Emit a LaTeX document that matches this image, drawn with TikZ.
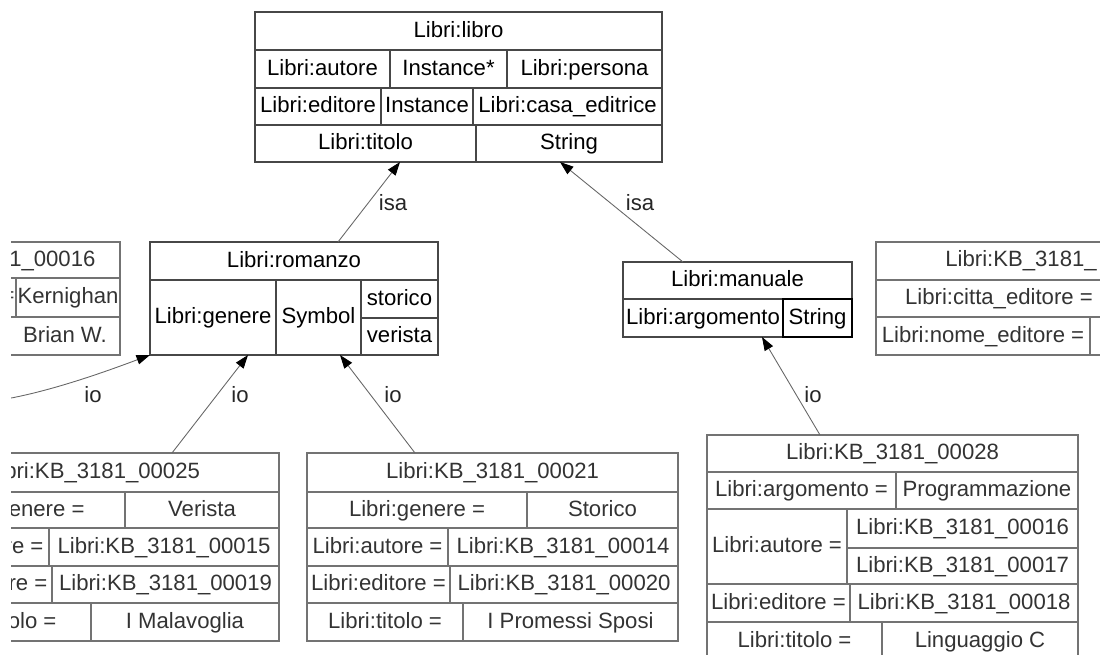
\documentclass[tikz,border=0pt]{standalone}
\usepackage{fontspec}
\setmainfont{Liberation Sans}
\usetikzlibrary{arrows.meta,fit,calc}

% a table cell: style, name, x1, y1, x2, y2, text
\newcommand{\tcell}[7]{%
  \node[#1, minimum width={(#5-#3)*0.02cm}, minimum height={(#6-#4)*0.02cm}]
    (#2) at ({(#3+#5)/2},{(#4+#6)/2}) {#7};}

\begin{document}
\begin{tikzpicture}[x=0.02cm,y=-0.02cm,
  txtfont/.style={font=\fontsize{12.6}{14}\selectfont},
  cellU/.style={draw=black!72, line width=0.6pt, inner sep=0pt, outer sep=0pt,
    text=black, txtfont, text height=8.6pt, text depth=1.6pt},
  cellL/.style={draw=black!55, line width=0.6pt, inner sep=0pt, outer sep=0pt,
    text=black!80, txtfont, text height=8.6pt, text depth=1.6pt},
  cellM/.style={cellU, draw=black},
  frame/.style={inner sep=0pt, outer sep=0pt},
  lab/.style={inner sep=0pt, text=black!85, txtfont},
  link/.style={draw=black!60, line width=0.5pt,
    -{Triangle[length=0.27cm,width=0.19cm,color=black]}}
]
\useasboundingbox (0,0) rectangle (1100,655);
\clip (11,0) rectangle (1100,655);

% ---- class Libri:libro ----
\node[frame, fit={(255,12) (662,162)}] (libro) {};
\tcell{cellU}{lb-h}{255}{12}{662}{50}{Libri:libro}
\tcell{cellU}{lb-a1}{255}{50}{390}{88}{Libri:autore}
\tcell{cellU}{lb-a2}{390}{50}{507}{88}{Instance*}
\tcell{cellU}{lb-a3}{507}{50}{662}{88}{Libri:persona}
\tcell{cellU}{lb-e1}{255}{88}{381}{125}{Libri:editore}
\tcell{cellU}{lb-e2}{381}{88}{473}{125}{Instance}
\tcell{cellU}{lb-e3}{473}{88}{662}{125}{Libri:casa\_editrice}
\tcell{cellU}{lb-t1}{255}{125}{476}{162}{Libri:titolo}
\tcell{cellU}{lb-t2}{476}{125}{662}{162}{String}

% ---- class Libri:romanzo ----
\node[frame, fit={(150,242) (438,355)}] (romanzo) {};
\tcell{cellU}{rm-h}{150}{242}{438}{280}{Libri:romanzo}
\tcell{cellU}{rm-g1}{150}{280}{276}{355}{Libri:genere}
\tcell{cellU}{rm-g2}{276}{280}{361}{355}{Symbol}
\tcell{cellU}{rm-g3}{361}{280}{438}{318}{storico}
\tcell{cellU}{rm-g4}{361}{318}{438}{355}{verista}

% ---- class Libri:manuale ----
\node[frame, fit={(623,262) (852,337)}] (manuale) {};
\tcell{cellU}{mn-h}{623}{262}{852}{299}{Libri:manuale}
\tcell{cellU}{mn-a1}{623}{299}{783}{337}{Libri:argomento}
\tcell{cellM}{mn-a2}{783}{299}{852}{337}{String}

% ---- instance Libri:KB_3181_00016 (left) ----
\node[frame, fit={(-142,242) (120,355)}] (kb16) {};
\tcell{cellL}{k16-h}{-142}{242}{120}{278}{Libri:KB\_3181\_00016}
\tcell{cellL}{k16-c1}{-142}{278}{16}{317}{}
\node[lab, anchor=east, text=black!75] (k16-eq) at (15,297.5) {=};
\tcell{cellL}{k16-c2}{16}{278}{120}{317}{Kernighan}
\tcell{cellL}{k16-n1}{-142}{317}{10}{355}{}
\tcell{cellL}{k16-n2}{10}{317}{120}{355}{Brian W.}

% ---- instance on the right ----
\node[frame, fit={(876,242) (1230,355)}] (kbR) {};
\tcell{cellL}{kR-h}{876}{242}{1230}{280}{}
\node[lab, anchor=west, text=black!80] (kR-ht) at (945,261) {Libri:KB\_3181\_};
\tcell{cellL}{kR-c1}{876}{280}{1122}{317}{Libri:citta\_editore =}
\tcell{cellL}{kR-c2}{1122}{280}{1230}{317}{}
\tcell{cellL}{kR-n1}{876}{317}{1090}{355}{Libri:nome\_editore =}
\tcell{cellL}{kR-n2}{1090}{317}{1230}{355}{}

% ---- instance Libri:KB_3181_00025 ----
\node[frame, fit={(-92,453) (279,641)}] (kb25) {};
\tcell{cellL}{k25-h}{-92}{453}{279}{492}{Libri:KB\_3181\_00025}
\tcell{cellL}{k25-g1}{-92}{492}{125}{528}{Libri:genere =}
\tcell{cellL}{k25-g2}{125}{492}{279}{528}{Verista}
\tcell{cellL}{k25-a1}{-92}{528}{49}{566}{Libri:autore =}
\tcell{cellL}{k25-a2}{49}{528}{279}{566}{Libri:KB\_3181\_00015}
\tcell{cellL}{k25-e1}{-92}{566}{52}{603}{Libri:editore =}
\tcell{cellL}{k25-e2}{52}{566}{279}{603}{Libri:KB\_3181\_00019}
\tcell{cellL}{k25-t1}{-92}{603}{91}{641}{Libri:titolo =}
\tcell{cellL}{k25-t2}{91}{603}{279}{641}{I Malavoglia}

% ---- instance Libri:KB_3181_00021 ----
\node[frame, fit={(307,453) (678,641)}] (kb21) {};
\tcell{cellL}{k21-h}{307}{453}{678}{492}{Libri:KB\_3181\_00021}
\tcell{cellL}{k21-g1}{307}{492}{527}{528}{Libri:genere =}
\tcell{cellL}{k21-g2}{527}{492}{678}{528}{Storico}
\tcell{cellL}{k21-a1}{307}{528}{448}{566}{Libri:autore =}
\tcell{cellL}{k21-a2}{448}{528}{678}{566}{Libri:KB\_3181\_00014}
\tcell{cellL}{k21-e1}{307}{566}{450}{603}{Libri:editore =}
\tcell{cellL}{k21-e2}{450}{566}{678}{603}{Libri:KB\_3181\_00020}
\tcell{cellL}{k21-t1}{307}{603}{463}{641}{Libri:titolo =}
\tcell{cellL}{k21-t2}{463}{603}{678}{641}{I Promessi Sposi}

% ---- instance Libri:KB_3181_00028 ----
\node[frame, fit={(707,435) (1078,660)}] (kb28) {};
\tcell{cellL}{k28-h}{707}{435}{1078}{472}{Libri:KB\_3181\_00028}
\tcell{cellL}{k28-g1}{707}{472}{896}{509}{Libri:argomento =}
\tcell{cellL}{k28-g2}{896}{472}{1078}{509}{Programmazione}
\tcell{cellL}{k28-a1}{707}{509}{847}{584}{Libri:autore =}
\tcell{cellL}{k28-a2}{847}{509}{1078}{548}{Libri:KB\_3181\_00016}
\tcell{cellL}{k28-a3}{847}{548}{1078}{584}{Libri:KB\_3181\_00017}
\tcell{cellL}{k28-e1}{707}{584}{850}{622}{Libri:editore =}
\tcell{cellL}{k28-e2}{850}{584}{1078}{622}{Libri:KB\_3181\_00018}
\tcell{cellL}{k28-t1}{707}{622}{882}{660}{Libri:titolo =}
\tcell{cellL}{k28-t2}{882}{622}{1078}{660}{Linguaggio C}

% ---- isa links ----
\draw[link] ($(romanzo.north west)+(188,0)$) -- ($(libro.south west)+(145,0)$);
\draw[link] ($(manuale.north west)+(60,0)$) -- ($(libro.south west)+(305,0)$);
\node[lab] (isa1) at (393,203) {isa};
\node[lab] (isa2) at (640,203) {isa};

% ---- io links ----
\coordinate (ioin) at (0,400);
\draw[link] (ioin) .. controls (50,392) and (110,370) .. (romanzo.south west);
\draw[link] ($(kb25.north west)+(264,0)$) -- ($(romanzo.south west)+(98,0)$);
\draw[link] ($(kb21.north west)+(108,0)$) -- ($(romanzo.south west)+(190,0)$);
\draw[link] ($(kb28.north west)+(113,0)$) -- ($(manuale.south west)+(139,0)$);
\node[lab] (io1) at (93,395)  {io};
\node[lab] (io2) at (240,395) {io};
\node[lab] (io3) at (393,395) {io};
\node[lab] (io4) at (813,395) {io};
\end{tikzpicture}
\end{document}
